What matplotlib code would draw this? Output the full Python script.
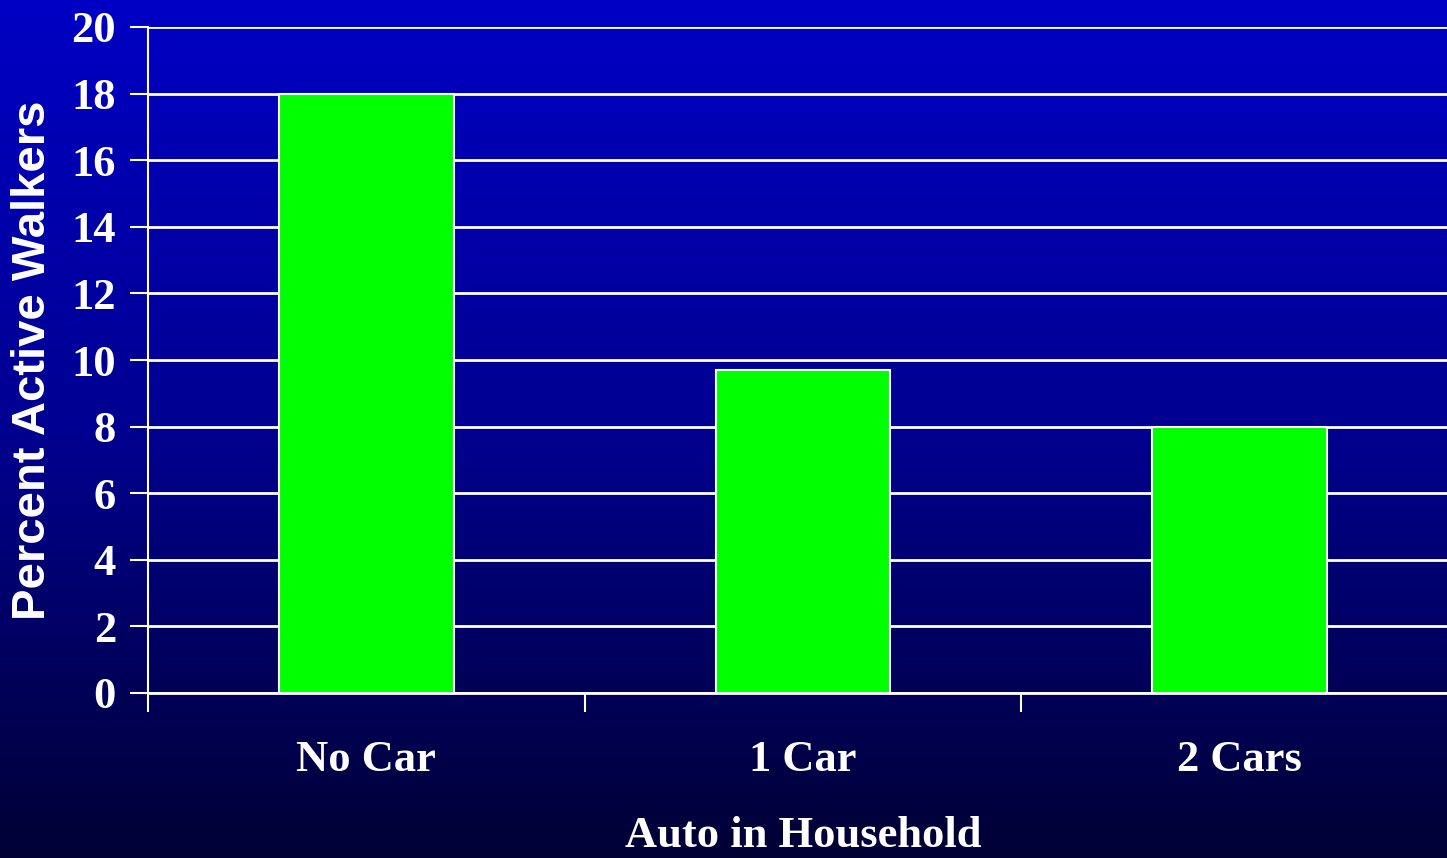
import numpy as np
import matplotlib
matplotlib.use("Agg")
import matplotlib.pyplot as plt
from matplotlib.colors import LinearSegmentedColormap

categories = ["No Car", "1 Car", "2 Cars"]
percent_active = [18.0, 9.7, 8.0]
y_ticks = [0, 2, 4, 6, 8, 10, 12, 14, 16, 18, 20]

W, H, DPI = 1447, 858, 100
fig = plt.figure(figsize=(W / DPI, H / DPI), dpi=DPI)

# vertical blue gradient background
bg = fig.add_axes([0, 0, 1, 1], zorder=-10)
grad = np.linspace(0, 1, 512).reshape(-1, 1)
cmap = LinearSegmentedColormap.from_list("bg", ["#0000C4", "#000090", "#000034"])
bg.imshow(grad, aspect="auto", cmap=cmap, extent=[0, 1, 0, 1], origin="upper")
bg.set_axis_off()

left, right = 148, 1458
top, bottom = 27, 693
ax = fig.add_axes([left / W, 1 - bottom / H, (right - left) / W, (bottom - top) / H])
ax.set_facecolor("none")

x = np.arange(len(categories))
ax.bar(x, percent_active, width=0.40, color="#00FF00", edgecolor="white",
       linewidth=1.5, zorder=3)

ax.set_xlim(-0.5, len(categories) - 0.5)
ax.set_ylim(0, 20)
ax.set_yticks(y_ticks)
ax.set_yticklabels([str(v) for v in y_ticks])
ax.yaxis.grid(True, color="white", linewidth=2, zorder=1)
ax.set_axisbelow(True)

# category labels centered, tick marks on category boundaries
ax.set_xticks(x)
ax.set_xticklabels(categories)
ax.tick_params(axis="x", which="major", length=0, pad=34)
ax.set_xticks(np.arange(len(categories) + 1) - 0.5, minor=True)
ax.tick_params(axis="x", which="minor", length=14, width=1.5, color="white",
               direction="out")
ax.tick_params(axis="y", length=13, width=1.5, color="white", pad=10)

serif = {"family": "Liberation Serif", "weight": "bold", "size": 32}
for lab in ax.get_xticklabels() + ax.get_yticklabels():
    lab.set_fontfamily("Liberation Serif")
    lab.set_fontweight("bold")
    lab.set_fontsize(32)
    lab.set_color("white")

for s in ["top", "right"]:
    ax.spines[s].set_visible(False)
ax.spines["left"].set_color("white")
ax.spines["left"].set_linewidth(1.5)
ax.spines["bottom"].set_color("white")
ax.spines["bottom"].set_linewidth(2)

fig.text(803 / W, 1 - 836 / H, "Auto in Household", ha="center", va="center",
         color="white", fontdict=serif)
fig.text(33 / W, 1 - 360 / H, "Percent Active Walkers", rotation=90,
         ha="center", va="center", color="white",
         family="Liberation Sans", weight="bold", size=34)

fig.savefig("out.png", dpi=DPI)
